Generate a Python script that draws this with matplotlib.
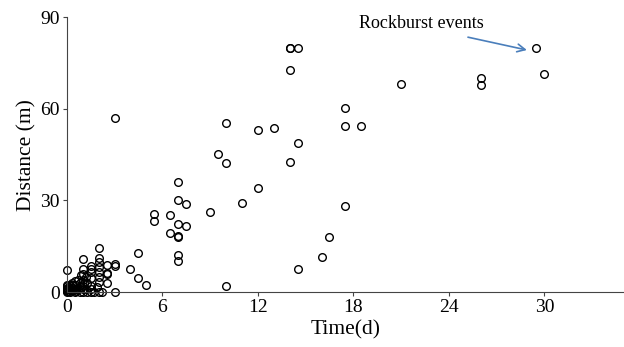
import numpy as np
import matplotlib
matplotlib.use('Agg')
import matplotlib.pyplot as plt

# datos leidos a ojo del grafico (tiempo en dias, distancia en m)
# nube densa cerca del origen
t_cluster = [0, 0, 0, 0, 0, 0, 0, 0.1, 0.1, 0.2, 0.2, 0.2, 0.3, 0.3, 0.3, 0.4, 0.4, 0.5, 0.5, 0.5,
             0.6, 0.6, 0.7, 0.7, 0.8, 0.8, 0.9, 0.9, 1, 1, 1, 1, 1, 1, 1, 1.1, 1.2, 1.2, 1.3, 1.3,
             1.5, 1.5, 1.5, 1.5, 1.5, 1.5, 1.5, 1.7, 1.9, 2, 2, 2, 2, 2, 2, 2, 2, 2.2,
             2.5, 2.5, 2.5, 2.5, 3, 3, 3]
d_cluster = [0, 0.5, 1, 1.5, 2, 2.5, 7.2, 0.3, 1.2, 0, 1, 2.5, 0.5, 1.5, 3, 0.8, 2.2, 0, 1.2, 3.5,
             0.5, 2.5, 1, 4, 0, 3, 1.8, 5.5, 0, 1, 2, 4, 6, 7.5, 11, 3, 1, 5, 0, 3,
             0, 2, 4.5, 6.5, 7.5, 8.5, 1, 0, 1.7, 0, 3.4, 5, 6.6, 8.3, 9.9, 11.2, 14.5, 0,
             3, 6, 6.3, 8.8, 0, 8.5, 9.2]

# resto de los puntos
t_rest = [3.0, 4, 4.5, 4.5, 5, 5.5, 5.5, 6.5, 6.5, 7, 7, 7, 7, 7, 7, 7, 7.5, 7.5,
          9, 9.5, 10, 10, 10, 11, 12, 12, 13, 14, 14, 14, 14, 14.5, 14.5, 14.5,
          16, 16.5, 17.5, 17.5, 17.5, 18.5, 21, 26, 26, 29.5, 30]
d_rest = [57, 7.6, 12.7, 4.6, 2.2, 25.7, 23.2, 25.2, 19.2, 36.1, 30.1, 22.3, 18.1, 18.3, 12.1, 10.3, 28.7, 21.6,
          26.2, 45.2, 55.2, 42.1, 2.1, 29.2, 53.2, 34.1, 53.6, 80, 72.6, 42.6, 80, 48.7, 7.7, 80,
          11.6, 18.1, 60.1, 54.5, 28.1, 54.5, 68.1, 70, 67.7, 80, 71.3]

t = np.array(t_cluster + t_rest)
d = np.array(d_cluster + d_rest)

plt.rcParams['font.family'] = ['Liberation Serif', 'DejaVu Serif']

fig = plt.figure(figsize=(6.24, 3.47), dpi=100)
ax = fig.add_axes([0.107, 0.158, 0.893, 0.793])

ax.plot(t, d, 'o', mfc='none', mec='black', ms=5.5, mew=1.0, clip_on=False)

ax.set_xlim(0, 35)
ax.set_ylim(0, 90)
ax.set_xticks(np.arange(0, 31, 6))
ax.set_yticks(np.arange(0, 91, 30))
ax.tick_params(labelsize=14, length=3, color='#444444', pad=2)
ax.set_xlabel('Time(d)', fontsize=15.5, labelpad=3)
ax.set_ylabel('Distance (m)', fontsize=15.5, labelpad=3)

for lado in ['top', 'right']:
    ax.spines[lado].set_visible(False)
for lado in ['left', 'bottom']:
    ax.spines[lado].set_color('#444444')

# flecha y texto de los eventos
ax.text(22.3, 87.9, 'Rockburst events', fontsize=13, ha='center', va='center')
ax.annotate('', xy=(28.9, 79.2), xytext=(25.2, 83.4),
            arrowprops=dict(arrowstyle='->', color='#4a7ebb', lw=1.2, mutation_scale=14,
                            shrinkA=0, shrinkB=0))

fig.savefig('out.png', dpi=100)
